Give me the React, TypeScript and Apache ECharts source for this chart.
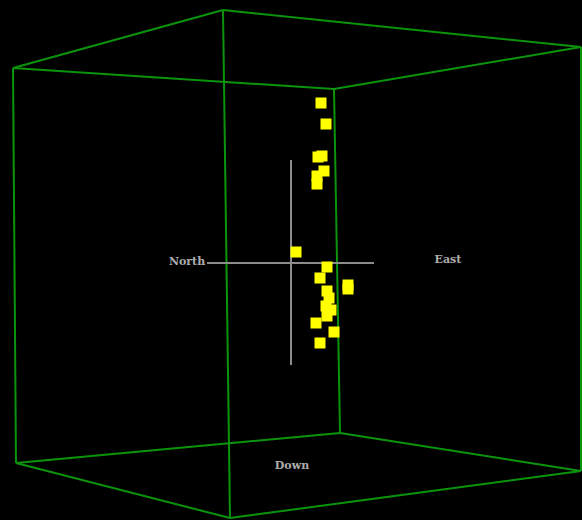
import React, { useEffect, useRef } from "react";
import * as echarts from "echarts";

// Projected box corners (screen-space data units)
const cornerNames = ["TL", "TB", "TR", "TF", "BL", "BF", "BR", "BB"];
const cornerX = [13, 223, 581, 334, 16, 230, 581, 340];
const cornerY = [68, 10, 47, 89, 463, 518, 471, 433];
const boxEdges: [string, string][] = [
  ["TL", "TB"], ["TB", "TR"], ["TR", "TF"], ["TF", "TL"],
  ["BL", "BB"], ["BB", "BR"], ["BR", "BF"], ["BF", "BL"],
  ["TL", "BL"], ["TB", "BF"], ["TR", "BR"], ["TF", "BB"],
];

// Crosshair segments
const crossX1 = [291, 207];
const crossY1 = [160, 263];
const crossX2 = [291, 374];
const crossY2 = [365, 263];

// Axis labels
const labelNames = ["North", "East", "Down"];
const labelX = [187, 448, 292];
const labelY = [261, 259, 465];

// Projected sample points
const pointX = [321, 326, 318, 322, 324, 317, 317, 296, 327, 320, 348, 348, 327, 329, 326, 331, 327, 316, 334, 320];
const pointY = [103, 124, 157, 156, 171, 176, 184, 252, 267, 278, 285, 289, 291, 298, 306, 310, 316, 323, 332, 343];

export default function App() {
  const ref = useRef<HTMLDivElement>(null);
  useEffect(() => {
    if (!ref.current) return;
    const chart = echarts.init(ref.current, null, { renderer: "svg" });
    const idx = (n: string) => cornerNames.indexOf(n);
    const edgeData = boxEdges.map(([a, b]) => ({
      coords: [
        [cornerX[idx(a)], cornerY[idx(a)]],
        [cornerX[idx(b)], cornerY[idx(b)]],
      ],
    }));
    const crossData = crossX1.map((x, i) => ({
      coords: [
        [x, crossY1[i]],
        [crossX2[i], crossY2[i]],
      ],
    }));
    chart.setOption({
      animation: false,
      backgroundColor: "#000000",
      grid: { left: 0, right: 0, top: 0, bottom: 0 },
      xAxis: { type: "value", min: 0, max: 582, show: false },
      yAxis: { type: "value", min: 0, max: 520, inverse: true, show: false },
      series: [
        {
          type: "lines",
          coordinateSystem: "cartesian2d",
          data: edgeData,
          lineStyle: { color: "#0b940b", width: 2, opacity: 1 },
          silent: true,
          z: 1,
        },
        {
          type: "lines",
          coordinateSystem: "cartesian2d",
          data: crossData,
          lineStyle: { color: "#8c8c8c", width: 2, opacity: 1 },
          silent: true,
          z: 2,
        },
        {
          type: "scatter",
          data: labelNames.map((n, i) => ({ name: n, value: [labelX[i], labelY[i]] })),
          symbolSize: 0,
          label: {
            show: true,
            position: "inside",
            formatter: (p: any) => p.name,
            color: "#dcdcdc",
            fontFamily: "DejaVu Serif",
            fontWeight: "bold",
            fontSize: 11,
          },
          z: 3,
        },
        {
          type: "scatter",
          data: pointX.map((x, i) => [x, pointY[i]]),
          symbol: "rect",
          symbolSize: 11,
          itemStyle: { color: "#ffff00", opacity: 1 },
          z: 4,
        },
      ],
    });
    return () => chart.dispose();
  }, []);
  return (
    <div
      ref={ref}
      style={{ position: "fixed", left: 0, top: 0, width: 582, height: 520 }}
    />
  );
}
